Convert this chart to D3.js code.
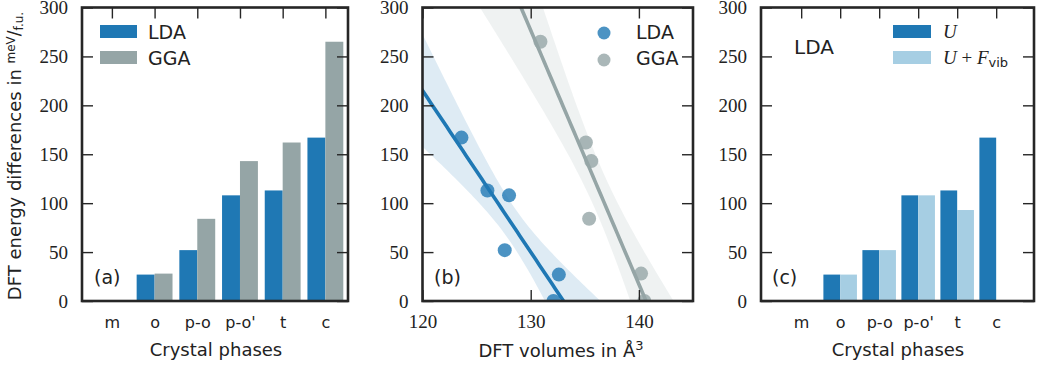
<!DOCTYPE html>
<html><head><meta charset="utf-8">
<script src="https://cdn.jsdelivr.net/npm/d3@7"></script>
<style>body{margin:0;background:#fff} svg{display:block}</style>
</head><body><svg id="chart" width="1037" height="367"></svg>
<script>
// ---- data ----
const phases = ["m", "o", "p-o", "p-o'", "t", "c"];
const ldaEnergy = [0, 27, 52, 108, 113, 167];
const ggaEnergy = [0, 28, 84, 143, 162, 265];
const ldaVolume = [132.1, 132.6, 127.6, 128.0, 126.0, 123.6];
const ggaVolume = [140.5, 140.2, 135.4, 135.6, 135.1, 130.9];
const uEnergy = [0, 27, 52, 108, 113, 167];
const uFvibEnergy = [0, 27, 52, 108, 93, null];
const yTicks = [0, 50, 100, 150, 200, 250, 300];
const volTicks = [120, 130, 140];

// ---- style ----
const C_LDA = "#1f78b4", C_GGA = "#95a5a6", C_LIGHT = "#a6cee3", C_AX = "#262626";
const SANS = "DejaVu Sans", SERIF = "Liberation Serif";

const svg = d3.select("#chart");
const Y0 = 301, Y1 = 7.5;
const y = d3.scaleLinear().domain([0, 300]).range([Y0, Y1]);

function styleAxis(g, font, size) {
  g.select(".domain").remove();
  g.selectAll(".tick line").attr("stroke", C_AX).attr("stroke-width", 1.4);
  g.selectAll(".tick text").attr("fill", "#222").style("font-family", font).style("font-size", size + "px");
}
function yAxes(x0, x1) {
  svg.append("g").attr("transform", `translate(${x0},0)`)
    .call(d3.axisLeft(y).tickValues(yTicks).tickSize(-11).tickPadding(14).tickFormat(d3.format("d")))
    .call(g => styleAxis(g, SERIF, 19));
  svg.append("g").attr("transform", `translate(${x1},0)`)
    .call(d3.axisRight(y).tickValues(yTicks).tickSize(-11).tickFormat(""))
    .call(g => styleAxis(g, SERIF, 19));
}
function frame(x0, x1) {
  svg.append("rect").attr("x", x0).attr("y", Y1).attr("width", x1 - x0).attr("height", Y0 - Y1)
    .attr("fill", "none").attr("stroke", C_AX).attr("stroke-width", 2.6);
}
function catAxes(xs) {
  svg.append("g").attr("transform", `translate(0,${Y1})`)
    .call(d3.axisTop(xs).tickValues(d3.range(phases.length)).tickSize(-11).tickFormat(""))
    .call(g => styleAxis(g, SANS, 16));
  svg.append("g").attr("transform", `translate(0,${Y0})`)
    .call(d3.axisBottom(xs).tickValues(d3.range(phases.length)).tickSize(0).tickPadding(16).tickFormat(i => phases[i]))
    .call(g => styleAxis(g, SANS, 16));
}
function text(x, yy, s, size, opts = {}) {
  return svg.append("text").attr("x", x).attr("y", yy).text(s)
    .attr("fill", "#222").style("font-family", opts.font || SANS).style("font-size", size + "px")
    .attr("text-anchor", opts.anchor || "start");
}

// ================= panel (a) =================
const xa = d3.scaleLinear().domain([-0.7, 5.53]).range([82, 348]);
const BW = 0.42;
svg.append("g").selectAll("rect").data(ldaEnergy).join("rect")
  .attr("x", (d, i) => xa(i - BW)).attr("width", xa(BW) - xa(0))
  .attr("y", d => y(d)).attr("height", d => Y0 - y(d)).attr("fill", C_LDA);
svg.append("g").selectAll("rect").data(ggaEnergy).join("rect")
  .attr("x", (d, i) => xa(i)).attr("width", xa(BW) - xa(0))
  .attr("y", d => y(d)).attr("height", d => Y0 - y(d)).attr("fill", C_GGA);
yAxes(82, 348);
catAxes(xa);
frame(82, 348);
// legend
svg.append("rect").attr("x", 100).attr("y", 25).attr("width", 37).attr("height", 13).attr("fill", C_LDA);
svg.append("rect").attr("x", 100).attr("y", 51).attr("width", 37).attr("height", 13).attr("fill", C_GGA);
text(148, 38.5, "LDA", 19);
text(148, 64.5, "GGA", 19);
text(94, 284, "(a)", 19);
text(216, 356, "Crystal phases", 18, {anchor: "middle"});

// y label
const yl = svg.append("text").attr("transform", "translate(21,156) rotate(-90)")
  .attr("text-anchor", "middle").attr("fill", "#222").style("font-family", SANS).style("font-size", "18px");
yl.append("tspan").text("DFT energy differences in ");
yl.append("tspan").text("meV").style("font-size", "12px").attr("dy", -6);
yl.append("tspan").text("/").style("font-size", "17px").attr("dy", 5);
yl.append("tspan").text("f.u.").style("font-size", "12px").attr("dy", 3);

// ================= panel (b) =================
const xb = d3.scaleLinear().domain([120, 145]).range([422.5, 693]);
svg.append("defs").append("clipPath").attr("id", "clipb")
  .append("rect").attr("x", 422.5).attr("y", Y1).attr("width", 693 - 422.5).attr("height", Y0 - Y1);

function regress(xs, ys) {
  const n = xs.length, mx = d3.mean(xs), my = d3.mean(ys);
  let sxy = 0, sxx = 0;
  xs.forEach((v, i) => { sxy += (v - mx) * (ys[i] - my); sxx += (v - mx) ** 2; });
  const b = sxy / sxx, a = my - b * mx;
  let sse = 0; xs.forEach((v, i) => { sse += (ys[i] - (a + b * v)) ** 2; });
  const s = Math.sqrt(sse / (n - 2));
  return {a, b, s, n, mx, sxx};
}
const grid = d3.range(118, 147.01, 0.25);
const pb = svg.append("g").attr("clip-path", "url(#clipb)");
function drawReg(xs, ys, col, mult) {
  const r = regress(xs, ys);
  const band = grid.map(v => {
    const f = r.a + r.b * v;
    const se = r.s * Math.sqrt(1 / r.n + (v - r.mx) ** 2 / r.sxx);
    return {v, lo: f - mult * se, hi: f + mult * se, f};
  });
  pb.append("path").datum(band)
    .attr("d", d3.area().x(d => xb(d.v)).y0(d => y(d.lo)).y1(d => y(d.hi)))
    .attr("fill", col).attr("fill-opacity", 0.15);
  return band;
}
const bandL = drawReg(ldaVolume, ldaEnergy, C_LDA, 1.9);
const bandG = drawReg(ggaVolume, ggaEnergy, C_GGA, 2.3);
pb.append("g").selectAll("circle").data(ldaEnergy).join("circle")
  .attr("cx", (d, i) => xb(ldaVolume[i])).attr("cy", d => y(d)).attr("r", 7)
  .attr("fill", C_LDA).attr("fill-opacity", 0.8);
pb.append("g").selectAll("circle").data(ggaEnergy).join("circle")
  .attr("cx", (d, i) => xb(ggaVolume[i])).attr("cy", d => y(d)).attr("r", 7)
  .attr("fill", C_GGA).attr("fill-opacity", 0.8);
const line = d3.line().x(d => xb(d.v)).y(d => y(d.f));
pb.append("path").datum(bandL).attr("d", line).attr("fill", "none").attr("stroke", C_LDA).attr("stroke-width", 3.6);
pb.append("path").datum(bandG).attr("d", line).attr("fill", "none").attr("stroke", C_GGA).attr("stroke-width", 3.6);

yAxes(422.5, 693);
svg.append("g").attr("transform", `translate(0,${Y1})`)
  .call(d3.axisTop(xb).tickValues(volTicks).tickSize(-11).tickFormat(""))
  .call(g => styleAxis(g, SERIF, 19));
svg.append("g").attr("transform", `translate(0,${Y0})`)
  .call(d3.axisBottom(xb).tickValues(volTicks).tickSize(-11).tickPadding(14).tickFormat(d3.format("d")))
  .call(g => styleAxis(g, SERIF, 19));
frame(422.5, 693);
svg.append("circle").attr("cx", 604).attr("cy", 33).attr("r", 6.5).attr("fill", C_LDA).attr("fill-opacity", 0.8);
svg.append("circle").attr("cx", 604).attr("cy", 60).attr("r", 6.5).attr("fill", C_GGA).attr("fill-opacity", 0.8);
text(636, 38.5, "LDA", 19);
text(636, 65, "GGA", 19);
text(434, 284, "(b)", 19);
const xl = text(561, 357, "DFT volumes in Å", 18, {anchor: "middle"});
xl.append("tspan").text("3").attr("dy", -7).style("font-size", "13px");

// ================= panel (c) =================
const xc = d3.scaleLinear().domain([-1.03, 5.97]).range([761, 1034]);
const BWc = 0.43;
svg.append("g").selectAll("rect").data(uEnergy).join("rect")
  .attr("x", (d, i) => xc(i - BWc)).attr("width", xc(BWc) - xc(0))
  .attr("y", d => y(d)).attr("height", d => Y0 - y(d)).attr("fill", C_LDA);
svg.append("g").selectAll("rect").data(uFvibEnergy.map((d, i) => ({d, i})).filter(o => o.d !== null)).join("rect")
  .attr("x", o => xc(o.i)).attr("width", xc(BWc) - xc(0))
  .attr("y", o => y(o.d)).attr("height", o => Y0 - y(o.d)).attr("fill", C_LIGHT);
yAxes(761, 1034);
catAxes(xc);
frame(761, 1034);
svg.append("rect").attr("x", 893).attr("y", 25).attr("width", 38).attr("height", 13).attr("fill", C_LDA);
svg.append("rect").attr("x", 893).attr("y", 51).attr("width", 38).attr("height", 13).attr("fill", C_LIGHT);
text(943, 38, "U", 19, {font: SERIF}).style("font-style", "italic");
const lf = text(943, 64, "", 19, {font: SERIF});
lf.append("tspan").text("U").style("font-style", "italic");
lf.append("tspan").text(" + ");
lf.append("tspan").text("F").style("font-style", "italic");
lf.append("tspan").text("vib").attr("dy", 3).style("font-family", SANS).style("font-size", "13px");
text(794, 54, "LDA", 20);
text(772, 284, "(c)", 19);
text(898, 356, "Crystal phases", 18, {anchor: "middle"});
</script></body></html>
